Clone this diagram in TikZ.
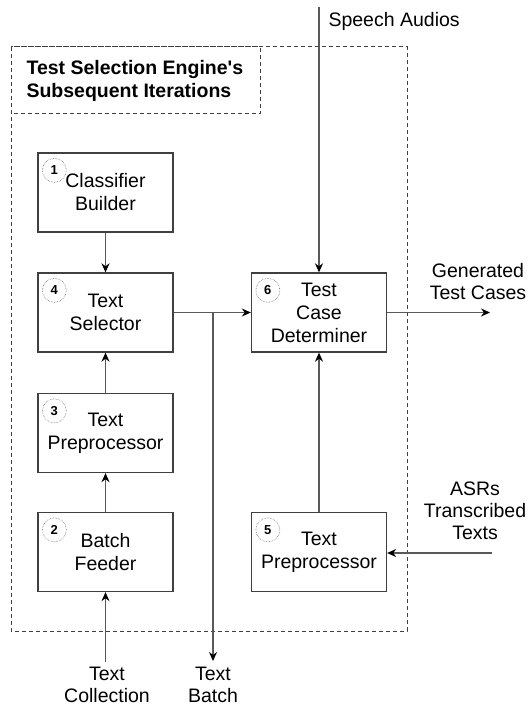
\documentclass[tikz,border=0pt]{standalone}
\usepackage{fontspec}
\setmainfont{Liberation Sans}
\usetikzlibrary{arrows.meta}

\def\xos{11}
\def\xoe{407}
\def\yos{47}
\def\yoe{631}
\def\xte{260}
\def\yte{114}

\tikzset{
  blk/.style={draw=black!75, line width=1.3pt, minimum width=135pt, minimum height=79pt,
    align=center, font=\fontsize{19.5}{23}\selectfont},
  num/.style={circle, draw=black!55, densely dotted, line width=0.6pt, minimum size=24pt,
    inner sep=0pt, font=\fontsize{13}{13}\selectfont\bfseries},
  lbl/.style={align=center, font=\fontsize{19.5}{22}\selectfont},
  flow/.style={draw=black!65, line width=1.3pt, -{Stealth[length=9pt,width=8pt,color=black]}},
  frame/.style={draw=black!75, line width=1pt, dash pattern=on 4pt off 3pt},
}

\begin{document}
\begin{tikzpicture}[x=1pt,y=-1pt]
        \useasboundingbox (0,0) rectangle (529,706);
        \draw [frame] (\xos,\yos) rectangle (\xoe,\yoe);
        \draw [frame] (\xos,\yos) rectangle (\xte,\yte);
        \node [anchor=west, align=left, font=\fontsize{19.5}{23}\selectfont\bfseries] (title) at (23,81)
            {Test Selection Engine\textquotesingle s\\Subsequent Iterations};

        \node [blk] (b1) at (105.5,192.5) {Classifier\\Builder};
        \node [blk] (b4) at (105.5,312.5) {Text\\Selector};
        \node [blk] (b3) at (105.5,433) {Text\\Preprocessor};
        \node [blk] (b2) at (105.5,552) {Batch\\Feeder};
        \node [blk] (b6) at (319,312.5) {Test\\Case\\Determiner};
        \node [blk] (b5) at (319,552) {Text\\Preprocessor};
        \foreach \b in {1,...,6}
            \node [num] (n\b) at ([shift={(17pt,-18pt)}]b\b.north west) {\b};

        \node [lbl, anchor=west] (speech) at (325,21) {Speech Audios};
        \node [lbl] (gen) at (478,282) {Generated\\Test Cases};
        \node [lbl] (asr) at (475,511) {ASRs\\Transcribed\\Texts};
        \node [lbl] (batch) at (213,685) {Text\\Batch};
        \node [lbl] (coll) at (107,685) {Text\\Collection};

        \coordinate (spk) at (319,7);
        \coordinate (split) at (213,312.5);
        \coordinate (gout) at (490,312.5);
        \coordinate (asrin) at (492,553);
        \coordinate (bout) at (213,661);
        \coordinate (cin) at (105.5,662);

        \draw [flow] (spk) -- (b6);
        \draw [flow] (b1) -- (b4);
        \draw [flow] (b3) -- (b4);
        \draw [flow] (b2) -- (b3);
        \draw [flow] (cin) -- (b2);
        \draw [flow] (b4) -- (b6);
        \draw [flow] (split) -- (bout);
        \draw [flow] (b6) -- (gout);
        \draw [flow] (asrin) -- (b5.east |- asrin);
        \draw [flow] (b5) -- (b6);
    \end{tikzpicture}
\end{document}
